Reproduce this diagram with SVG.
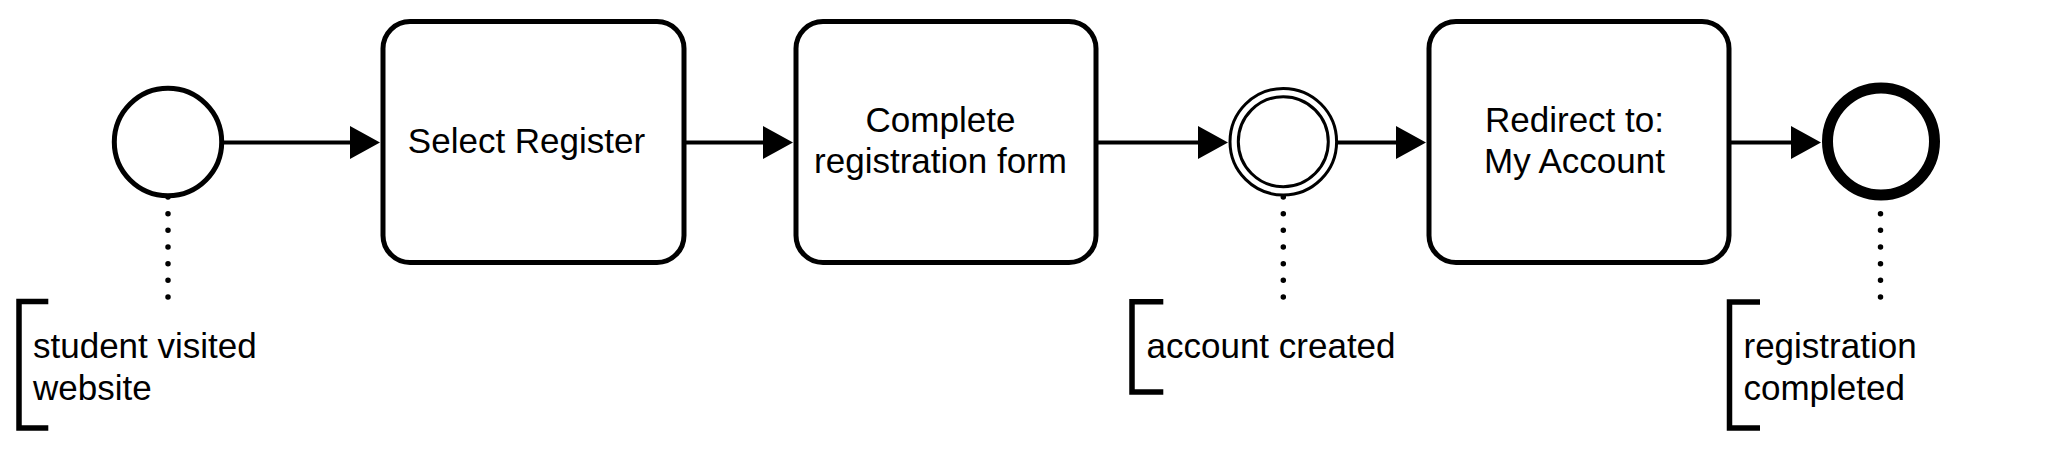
<svg xmlns="http://www.w3.org/2000/svg" width="2049" height="450" viewBox="0 0 2049 450">
<defs>
<style>
.task{fill:#fff;stroke:#000;stroke-width:5}
.ev{fill:#fff;stroke:#000}
.flow{fill:none;stroke:#000;stroke-width:4;marker-end:url(#arr)}
.assoc{fill:none;stroke:#000;stroke-width:5.5;stroke-dasharray:0 16.67;stroke-linecap:round}
.brk{fill:none;stroke:#000;stroke-width:5.5;stroke-linejoin:miter}
text{font-family:"Liberation Sans",Arial,Helvetica,sans-serif;font-size:35px;fill:#000}
.c{text-anchor:middle}
</style>
<marker id="arr" markerUnits="userSpaceOnUse" markerWidth="30" markerHeight="33" viewBox="0 0 30 33" refX="15" refY="16.5" orient="auto">
<path d="M0,0 L30,16.5 L0,33 Z" fill="#000"/>
</marker>
</defs>
<rect width="2049" height="450" fill="#fff"/>
<g id="connectors">
<path class="flow" d="M224 142.5 H365"/>
<path class="flow" d="M684 142.5 H778"/>
<path class="flow" d="M1096 142.5 H1213"/>
<path class="flow" d="M1337 142.5 H1411"/>
<path class="flow" d="M1729 142.5 H1806"/>
<path class="assoc" d="M168 197 V297.5"/>
<path class="assoc" d="M1283.3 197 V297.5"/>
<path class="assoc" d="M1880.5 197 V297.5"/>
</g>
<g id="start">
<circle class="ev" cx="168" cy="142" r="53.7" stroke-width="5"/>
</g>
<g id="task1">
<rect class="task" x="383" y="21.5" width="301" height="241" rx="27"/>
<text class="c" x="526.5" y="153.3">Select Register</text>
</g>
<g id="task2">
<rect class="task" x="796" y="21.5" width="300" height="241" rx="27"/>
<text class="c" x="940.5" y="131.7">Complete</text>
<text class="c" x="940.5" y="173.3">registration form</text>
</g>
<g id="intermediate">
<circle class="ev" cx="1283.3" cy="141.7" r="53.3" stroke-width="3"/>
<circle class="ev" cx="1283.3" cy="141.7" r="45" stroke-width="3"/>
</g>
<g id="task3">
<rect class="task" x="1429" y="21.5" width="300" height="241" rx="27"/>
<text class="c" x="1574.5" y="131.7">Redirect to:</text>
<text class="c" x="1574.5" y="173.3">My Account</text>
</g>
<g id="end">
<circle class="ev" cx="1881" cy="141.5" r="53.5" stroke-width="11"/>
</g>
<g id="ann1">
<path class="brk" d="M48.3 301.5 H19 V428 H48.3"/>
<text x="33" y="358.3">student visited</text>
<text x="33" y="399.5">website</text>
</g>
<g id="ann2">
<path class="brk" d="M1163.3 301.7 H1132 V392 H1163.3"/>
<text x="1146.5" y="358.3">account created</text>
</g>
<g id="ann3">
<path class="brk" d="M1760 302 H1729.5 V428 H1760"/>
<text x="1743.5" y="358">registration</text>
<text x="1743.5" y="400">completed</text>
</g>
</svg>
